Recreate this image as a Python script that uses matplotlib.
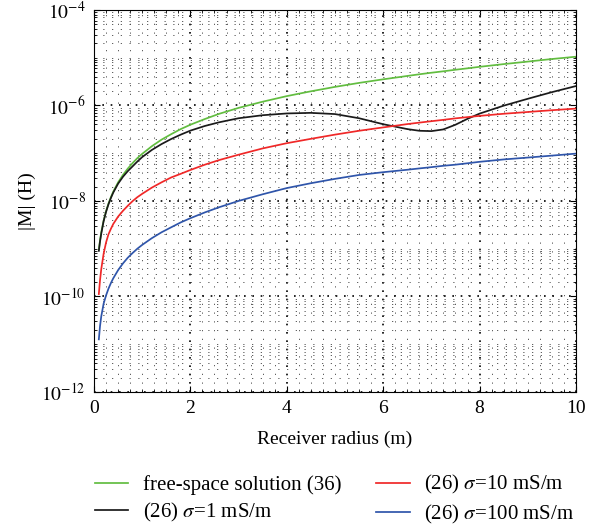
import matplotlib
matplotlib.use("Agg")
import matplotlib.pyplot as plt
from matplotlib.ticker import FixedLocator, MultipleLocator, FixedFormatter, NullFormatter

# Values
radius = [0.1, 0.125, 0.15, 0.2, 0.25, 0.3, 0.35, 0.4, 0.5, 0.6, 0.7, 0.8, 0.9, 1.0,
          1.2, 1.4, 1.6, 1.8, 2.0, 2.3, 2.6, 3.0, 3.5, 4.0, 4.5, 5.0, 5.5, 6.0,
          6.5, 6.75, 7.0, 7.25, 7.5, 7.75, 8.0, 8.5, 9.0, 9.5, 10.0]

free_space = [9.5e-10, 1.5e-9, 2.2e-9, 3.9e-9, 6.1e-9, 8.8e-9, 1.2e-8, 1.57e-8,
              2.45e-8, 3.5e-8, 4.75e-8, 6.2e-8, 7.9e-8, 9.7e-8,
              1.4e-7, 1.92e-7, 2.5e-7, 3.2e-7, 3.95e-7, 5.2e-7, 6.7e-7, 8.9e-7,
              1.2e-6, 1.57e-6, 1.98e-6, 2.45e-6, 2.97e-6, 3.53e-6,
              4.15e-6, 4.5e-6, 4.85e-6, 5.2e-6, 5.6e-6, 6.0e-6, 6.45e-6,
              7.35e-6, 8.3e-6, 9.4e-6, 1.05e-5]

sigma_1 = [9e-10, 1.42e-9, 2.05e-9, 3.8e-9, 5.9e-9, 8.5e-9, 1.15e-8, 1.5e-8,
           2.3e-8, 3.2e-8, 4.2e-8, 5.3e-8, 6.7e-8, 8.3e-8,
           1.17e-7, 1.55e-7, 1.98e-7, 2.45e-7, 2.97e-7, 3.72e-7, 4.45e-7, 5.4e-7,
           6.25e-7, 6.8e-7, 7.0e-7, 6.6e-7, 5.4e-7, 4.05e-7,
           3.2e-7, 2.95e-7, 2.9e-7, 3.15e-7, 3.95e-7, 5.25e-7, 6.75e-7,
           9.9e-7, 1.38e-6, 1.9e-6, 2.55e-6]

sigma_10 = [1.12e-10, 2.2e-10, 3.7e-10, 7.9e-10, 1.35e-9, 2.0e-9, 2.6e-9, 3.3e-9,
            4.7e-9, 6.2e-9, 7.9e-9, 9.9e-9, 1.2e-8, 1.41e-8,
            1.9e-8, 2.45e-8, 3.1e-8, 3.7e-8, 4.45e-8, 5.75e-8, 7.2e-8, 9.3e-8,
            1.26e-7, 1.62e-7, 2.0e-7, 2.45e-7, 2.95e-7, 3.47e-7,
            4.07e-7, 4.37e-7, 4.68e-7, 5.0e-7, 5.37e-7, 5.7e-7, 6.05e-7,
            6.7e-7, 7.3e-7, 7.95e-7, 8.6e-7]

sigma_100 = [1.26e-11, 2.4e-11, 3.8e-11, 7.1e-11, 1.05e-10, 1.45e-10, 1.9e-10, 2.4e-10,
             3.55e-10, 4.9e-10, 6.45e-10, 8.1e-10, 1.0e-9, 1.2e-9,
             1.66e-9, 2.2e-9, 2.8e-9, 3.55e-9, 4.35e-9, 5.75e-9, 7.4e-9, 1.0e-8,
             1.38e-8, 1.86e-8, 2.35e-8, 2.9e-8, 3.5e-8, 4.0e-8,
             4.5e-8, 4.8e-8, 5.1e-8, 5.45e-8, 5.75e-8, 6.15e-8, 6.6e-8,
             7.4e-8, 8.1e-8, 8.9e-8, 9.8e-8]

labels = ["free-space solution (36)", r"(26) $\sigma$=1 mS/m",
          r"(26) $\sigma$=10 mS/m", r"(26) $\sigma$=100 mS/m"]
colors = ["#62bd40", "#1a1a1a", "#f02828", "#2f55aa"]

plt.rcParams["font.family"] = "serif"
plt.rcParams["font.serif"] = ["Liberation Serif", "DejaVu Serif"]
plt.rcParams["mathtext.fontset"] = "stix"

fig = plt.figure(figsize=(5.95, 5.26), dpi=100)
ax = fig.add_axes([0.158, 0.255, 0.81, 0.726])

for series, lab, col in zip([free_space, sigma_1, sigma_10, sigma_100], labels, colors):
    ax.plot(radius, series, color=col, lw=1.25, label=lab)

ax.set_yscale("log")
ax.set_xlim(0, 10)
ax.set_ylim(1e-12, 1e-4)

# ticks: labelled decades every two, minor ticks at the rest
exps = list(range(-12, -3, 2))
minor_y = [j * 10.0 ** e for e in range(-12, -4) for j in range(1, 10)
           if not (j == 1 and e % 2 == 0)]
ax.yaxis.set_major_locator(FixedLocator([10.0 ** e for e in exps]))
ax.yaxis.set_major_formatter(FixedFormatter([r"$10^{%d}$" % e for e in exps]))
ax.yaxis.set_minor_locator(FixedLocator(minor_y))
ax.yaxis.set_minor_formatter(NullFormatter())
ax.xaxis.set_major_locator(MultipleLocator(2))
ax.xaxis.set_minor_locator(MultipleLocator(0.25))

ax.tick_params(which="both", direction="in", top=True, right=True, labelsize=14)
ax.tick_params(which="major", length=4, pad=6)
ax.tick_params(which="minor", length=2)

ax.grid(True, which="major", linestyle=(0, (1, 4)), color="black", lw=1.2)
ax.grid(True, which="minor", linestyle=(0, (1.5, 9)), color="#444444", lw=0.6)

ax.set_xlabel("Receiver radius (m)", fontsize=14, labelpad=10)
ax.set_ylabel("|M| (H)", fontsize=14, labelpad=4)

fig.legend(loc="upper left", bbox_to_anchor=(0.145, 0.116), ncol=2,
           frameon=False, fontsize=15, handlelength=1.6, handletextpad=0.7,
           columnspacing=1.7, labelspacing=0.3, borderaxespad=0)

fig.savefig("out.png", dpi=100)
